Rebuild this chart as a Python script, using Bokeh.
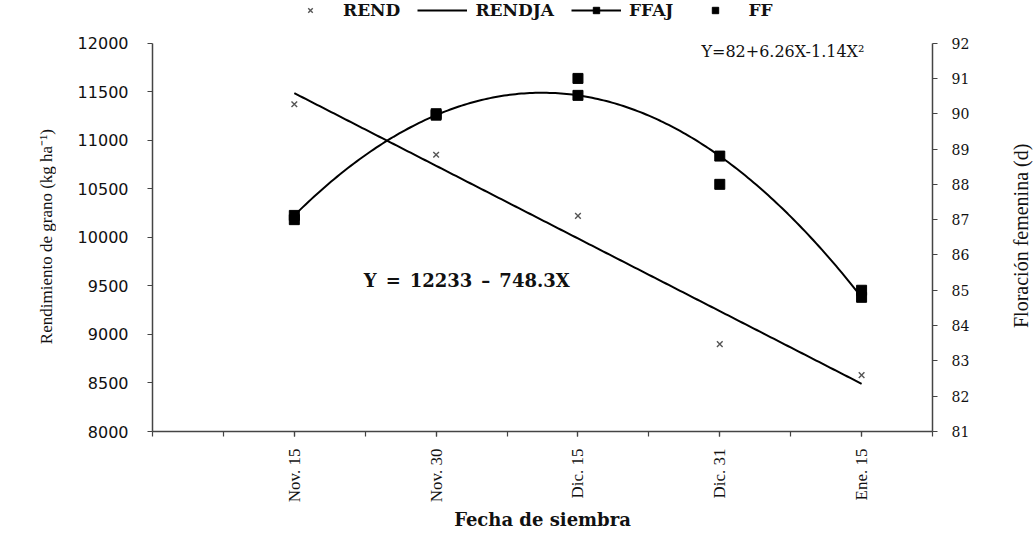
import math
from bokeh.plotting import figure
from bokeh.layouts import row
from bokeh.models import Range1d, LinearAxis, FixedTicker, Legend, LegendItem, Label, ColumnDataSource
from bokeh.embed import file_html
from bokeh.resources import INLINE

# Sowing dates, coded 1..5 on the x scale
fechas = ["Nov. 15", "Nov. 30", "Dic. 15", "Dic. 31", "Ene. 15"]
x_fecha = [1, 2, 3, 4, 5]

# Observed grain yield (kg/ha)
rend = [11370, 10850, 10220, 8900, 8580]
# Observed days to female flowering
ff = [87, 90, 91, 88, 85]

# Fitted models shown on the chart
rend_a, rend_b = 12233, -748.3          # Y = 12233 - 748.3X
ff_c0, ff_c1, ff_c2 = 82, 6.26, -1.14   # Y = 82 + 6.26X - 1.14X^2

# Axis tick values
rend_ticks = list(range(8000, 12001, 500))
ff_ticks = list(range(81, 93))

SERIF = "DejaVu Serif"
TIMES = "Liberation Serif"
AXIS_COLOR = "#444444"
TEXT_COLOR = "#111111"
H = 533

# The frame reaches the top of the canvas so the key and the quadratic
# equation can sit above the drawn axes; the axes themselves are bounded.
TOP_PAD = 43 / 392   # fraction of the axis span left free above the axes
rend_top = 12000 + 4000 * TOP_PAD
ff_top = 92 + 11 * TOP_PAD

p = figure(width=940, height=H, output_backend="svg", toolbar_location=None,
           x_range=Range1d(0, 5.5), y_range=Range1d(8000, rend_top),
           min_border_left=96, min_border_right=64, min_border_top=0, min_border_bottom=98)
p.extra_y_ranges = {"ff": Range1d(81, ff_top)}
p.outline_line_color = None
p.grid.visible = False
p.background_fill_color = "white"
p.border_fill_color = "white"

# Fitted curves evaluated from the stated coefficients
xs = [1 + i * 0.02 for i in range(201)]
rendja = ColumnDataSource(dict(x=xs, y=[rend_a + rend_b * x for x in xs]))
ffaj_curve = ColumnDataSource(dict(x=xs, y=[ff_c0 + ff_c1 * x + ff_c2 * x * x for x in xs]))
ffaj_pts = ColumnDataSource(dict(x=x_fecha, y=[ff_c0 + ff_c1 * x + ff_c2 * x * x for x in x_fecha]))

r_rendja = p.line("x", "y", source=rendja, line_color="black", line_width=2)
r_ffaj_line = p.line("x", "y", source=ffaj_curve, line_color="black", line_width=2, y_range_name="ff")
r_ffaj_pts = p.scatter("x", "y", source=ffaj_pts, marker="square", size=10, color="black", y_range_name="ff")
r_ff = p.scatter(x_fecha, ff, marker="square", size=10, color="black", y_range_name="ff")
r_rend = p.scatter(x_fecha, rend, marker="x", size=8, line_color="#555555", line_width=1.4)

# Bottom axis
xax = p.xaxis[0]
xax.ticker = FixedTicker(ticks=x_fecha, minor_ticks=[i * 0.5 for i in range(12)])
xax.major_label_overrides = {x: f for x, f in zip(x_fecha, fechas)}
xax.major_label_orientation = math.pi / 2
xax.major_label_text_font = TIMES
xax.major_label_text_font_size = "17px"
xax.major_label_standoff = 12
xax.axis_label = "Fecha de siembra"
xax.axis_label_text_font = SERIF
xax.axis_label_text_font_style = "bold"
xax.axis_label_text_font_size = "18px"
xax.axis_label_standoff = 4

# Left axis (yield); its title is drawn in the side strip
yax = p.yaxis[0]
yax.ticker = FixedTicker(ticks=rend_ticks)
yax.bounds = (8000, 12000)
yax.major_label_text_font = "DejaVu Sans"
yax.major_label_text_font_size = "16px"
yax.major_label_standoff = 19

# Right axis (flowering)
rax = LinearAxis(y_range_name="ff", ticker=FixedTicker(ticks=ff_ticks), bounds=(81, 92))
rax.major_label_text_font = SERIF
rax.major_label_text_font_size = "14px"
rax.major_label_standoff = 14
p.add_layout(rax, "right")

for ax in (xax, yax, rax):
    ax.axis_line_color = AXIS_COLOR
    ax.axis_line_width = 1.5
    ax.major_tick_line_color = AXIS_COLOR
    ax.major_tick_line_width = 1.2
    ax.major_tick_in = 0
    ax.major_tick_out = 5
    ax.minor_tick_line_color = AXIS_COLOR
    ax.minor_tick_line_width = 1.2
    ax.minor_tick_in = 0
    ax.minor_tick_out = 5 if ax is xax else 0
    ax.major_label_text_color = TEXT_COLOR
    ax.axis_label_text_color = TEXT_COLOR

# Model equations
p.add_layout(Label(x=1.49, y=9550, text="Y\u2002=\u200212233\u2002\u2013\u2002748.3X", text_font=SERIF,
                   text_font_style="bold", text_font_size="18px", text_baseline="middle",
                   text_color=TEXT_COLOR))
p.add_layout(Label(x=5.02, y=91.75, y_range_name="ff", text="Y=82+6.26X-1.14X\u00b2",
                   text_font=SERIF, text_font_size="16px", text_align="right",
                   text_baseline="alphabetic", text_color=TEXT_COLOR))

legend = Legend(items=[
    LegendItem(label="REND", renderers=[r_rend]),
    LegendItem(label="RENDJA", renderers=[r_rendja]),
    LegendItem(label="FFAJ", renderers=[r_ffaj_line, r_ffaj_pts]),
    LegendItem(label="FF", renderers=[r_ff]),
], orientation="horizontal", location=(133, 411))
legend.label_text_font = SERIF
legend.label_text_font_style = "bold"
legend.label_text_font_size = "17px"
legend.label_text_color = TEXT_COLOR
legend.glyph_width = 50
legend.glyph_height = 16
legend.label_standoff = 8
legend.spacing = 17
legend.padding = 2
legend.margin = 0
legend.border_line_color = None
legend.background_fill_alpha = 0
p.add_layout(legend, "center")


def title_strip(width, text, cx, cy, size):
    """Narrow side panel carrying one axis title, read bottom-to-top."""
    s = figure(width=width, height=H, output_backend="svg", toolbar_location=None,
               x_range=Range1d(0, width), y_range=Range1d(H, 0),
               x_axis_location=None, y_axis_location=None,
               min_border_left=0, min_border_right=0, min_border_top=0, min_border_bottom=0)
    s.outline_line_color = None
    s.background_fill_color = "white"
    s.border_fill_color = "white"
    s.grid.visible = False
    s.add_layout(Label(x=cx, y=cy, text=text, angle=math.pi / 2, text_align="center",
                       text_baseline="middle", text_font=TIMES, text_font_size=size,
                       text_color=TEXT_COLOR))
    return s


left_strip = title_strip(56, "Rendimiento de grano (kg ha\u207b\u00b9)", 46, 292, "17px")
right_strip = title_strip(40, "Floración femenina (d)", 24, 291, "20px")

layout = row(left_strip, p, right_strip, spacing=0)

open("out.html", "w").write(file_html(layout, INLINE))
